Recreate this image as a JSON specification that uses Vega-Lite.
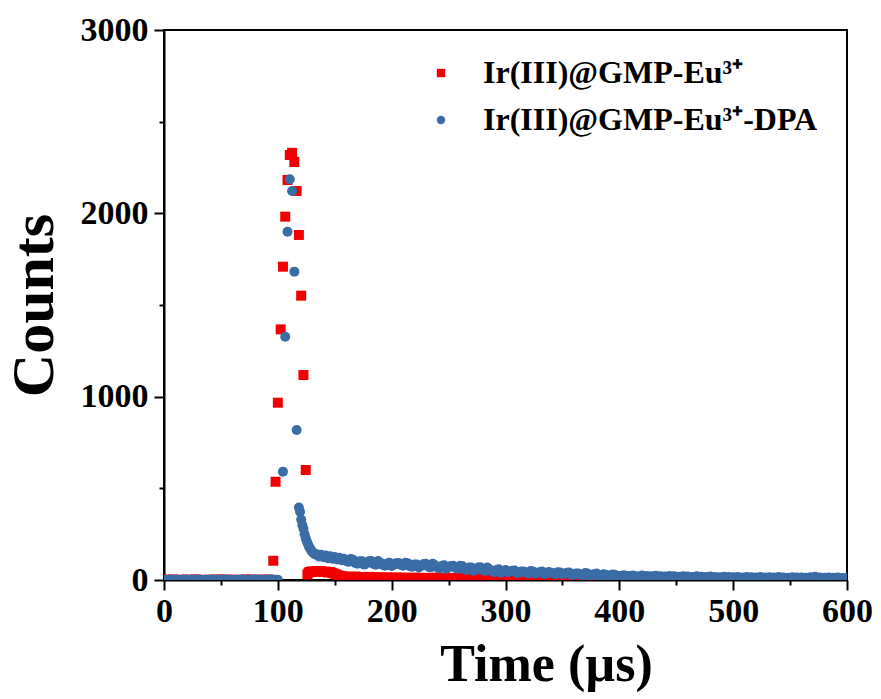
{
 "$schema": "https://vega.github.io/schema/vega-lite/v6.json",
 "width": 683, "height": 550,
 "autosize": {"type": "none"},
 "padding": {"left": 164, "top": 30, "right": 34, "bottom": 119},
 "background": "white",
 "config": {
  "view": {"stroke": "black", "strokeWidth": 2},
  "font": "Liberation Serif",
  "axis": {"grid": false, "domainColor": "black", "domainWidth": 2, "tickColor": "black", "tickWidth": 2, "labelColor": "black", "labelFont": "Liberation Serif", "labelFontWeight": "bold", "labelFontSize": 34, "titleFont": "Liberation Serif", "titleFontWeight": "bold", "titleColor": "black"}
 },
 "layer": [
  {
   "data": {"values": [
    {"t":0,"c":2,"s":"Ir(III)@GMP-Eu³⁺"},{"t":4,"c":1,"s":"Ir(III)@GMP-Eu³⁺"},{"t":8,"c":3,"s":"Ir(III)@GMP-Eu³⁺"},{"t":12,"c":0,"s":"Ir(III)@GMP-Eu³⁺"},{"t":16,"c":2,"s":"Ir(III)@GMP-Eu³⁺"},{"t":20,"c":1,"s":"Ir(III)@GMP-Eu³⁺"},{"t":24,"c":2,"s":"Ir(III)@GMP-Eu³⁺"},{"t":28,"c":3,"s":"Ir(III)@GMP-Eu³⁺"},{"t":32,"c":1,"s":"Ir(III)@GMP-Eu³⁺"},{"t":36,"c":0,"s":"Ir(III)@GMP-Eu³⁺"},{"t":40,"c":2,"s":"Ir(III)@GMP-Eu³⁺"},{"t":44,"c":1,"s":"Ir(III)@GMP-Eu³⁺"},{"t":48,"c":3,"s":"Ir(III)@GMP-Eu³⁺"},{"t":52,"c":2,"s":"Ir(III)@GMP-Eu³⁺"},{"t":56,"c":1,"s":"Ir(III)@GMP-Eu³⁺"},{"t":60,"c":2,"s":"Ir(III)@GMP-Eu³⁺"},{"t":64,"c":0,"s":"Ir(III)@GMP-Eu³⁺"},{"t":68,"c":1,"s":"Ir(III)@GMP-Eu³⁺"},{"t":72,"c":3,"s":"Ir(III)@GMP-Eu³⁺"},{"t":76,"c":2,"s":"Ir(III)@GMP-Eu³⁺"},{"t":80,"c":1,"s":"Ir(III)@GMP-Eu³⁺"},{"t":84,"c":2,"s":"Ir(III)@GMP-Eu³⁺"},{"t":88,"c":1,"s":"Ir(III)@GMP-Eu³⁺"},{"t":92,"c":3,"s":"Ir(III)@GMP-Eu³⁺"},
    {"t":96,"c":105,"s":"Ir(III)@GMP-Eu³⁺"},{"t":98,"c":536,"s":"Ir(III)@GMP-Eu³⁺"},{"t":100,"c":967,"s":"Ir(III)@GMP-Eu³⁺"},{"t":102.5,"c":1367,"s":"Ir(III)@GMP-Eu³⁺"},{"t":104.5,"c":1709,"s":"Ir(III)@GMP-Eu³⁺"},{"t":106.5,"c":1982,"s":"Ir(III)@GMP-Eu³⁺"},{"t":108.5,"c":2182,"s":"Ir(III)@GMP-Eu³⁺"},{"t":110.5,"c":2318,"s":"Ir(III)@GMP-Eu³⁺"},{"t":112.5,"c":2330,"s":"Ir(III)@GMP-Eu³⁺"},{"t":114.5,"c":2280,"s":"Ir(III)@GMP-Eu³⁺"},{"t":116.5,"c":2122,"s":"Ir(III)@GMP-Eu³⁺"},{"t":118.5,"c":1882,"s":"Ir(III)@GMP-Eu³⁺"},{"t":120.5,"c":1551,"s":"Ir(III)@GMP-Eu³⁺"},{"t":122.5,"c":1118,"s":"Ir(III)@GMP-Eu³⁺"},{"t":124.5,"c":600,"s":"Ir(III)@GMP-Eu³⁺"},
    {"t":126,"c":30,"s":"Ir(III)@GMP-Eu³⁺"},{"t":127,"c":40,"s":"Ir(III)@GMP-Eu³⁺"},{"t":128,"c":44,"s":"Ir(III)@GMP-Eu³⁺"},{"t":130,"c":47,"s":"Ir(III)@GMP-Eu³⁺"},{"t":132,"c":46,"s":"Ir(III)@GMP-Eu³⁺"},{"t":134,"c":49,"s":"Ir(III)@GMP-Eu³⁺"},{"t":136,"c":45,"s":"Ir(III)@GMP-Eu³⁺"},{"t":138,"c":48,"s":"Ir(III)@GMP-Eu³⁺"},{"t":140,"c":44,"s":"Ir(III)@GMP-Eu³⁺"},{"t":142,"c":46,"s":"Ir(III)@GMP-Eu³⁺"},{"t":144,"c":41,"s":"Ir(III)@GMP-Eu³⁺"},{"t":146,"c":43,"s":"Ir(III)@GMP-Eu³⁺"},{"t":148,"c":38,"s":"Ir(III)@GMP-Eu³⁺"},{"t":150,"c":34,"s":"Ir(III)@GMP-Eu³⁺"},{"t":152,"c":29,"s":"Ir(III)@GMP-Eu³⁺"},{"t":154,"c":24,"s":"Ir(III)@GMP-Eu³⁺"},{"t":156,"c":21,"s":"Ir(III)@GMP-Eu³⁺"},{"t":158,"c":19,"s":"Ir(III)@GMP-Eu³⁺"},{"t":160,"c":18,"s":"Ir(III)@GMP-Eu³⁺"},
    {"t":164,"c":17,"s":"Ir(III)@GMP-Eu³⁺"},{"t":168,"c":19,"s":"Ir(III)@GMP-Eu³⁺"},{"t":172,"c":16,"s":"Ir(III)@GMP-Eu³⁺"},{"t":176,"c":15,"s":"Ir(III)@GMP-Eu³⁺"},{"t":180,"c":17,"s":"Ir(III)@GMP-Eu³⁺"},{"t":184,"c":14,"s":"Ir(III)@GMP-Eu³⁺"},{"t":188,"c":15,"s":"Ir(III)@GMP-Eu³⁺"},{"t":192,"c":13,"s":"Ir(III)@GMP-Eu³⁺"},{"t":196,"c":15,"s":"Ir(III)@GMP-Eu³⁺"},{"t":200,"c":12,"s":"Ir(III)@GMP-Eu³⁺"},{"t":204,"c":14,"s":"Ir(III)@GMP-Eu³⁺"},{"t":208,"c":12,"s":"Ir(III)@GMP-Eu³⁺"},{"t":212,"c":13,"s":"Ir(III)@GMP-Eu³⁺"},{"t":216,"c":11,"s":"Ir(III)@GMP-Eu³⁺"},{"t":220,"c":13,"s":"Ir(III)@GMP-Eu³⁺"},{"t":224,"c":12,"s":"Ir(III)@GMP-Eu³⁺"},{"t":228,"c":10,"s":"Ir(III)@GMP-Eu³⁺"},{"t":232,"c":12,"s":"Ir(III)@GMP-Eu³⁺"},{"t":236,"c":11,"s":"Ir(III)@GMP-Eu³⁺"},{"t":240,"c":13,"s":"Ir(III)@GMP-Eu³⁺"},{"t":244,"c":10,"s":"Ir(III)@GMP-Eu³⁺"},{"t":248,"c":11,"s":"Ir(III)@GMP-Eu³⁺"},{"t":252,"c":12,"s":"Ir(III)@GMP-Eu³⁺"},{"t":256,"c":9,"s":"Ir(III)@GMP-Eu³⁺"},{"t":260,"c":11,"s":"Ir(III)@GMP-Eu³⁺"},{"t":264,"c":10,"s":"Ir(III)@GMP-Eu³⁺"},{"t":268,"c":12,"s":"Ir(III)@GMP-Eu³⁺"},{"t":272,"c":9,"s":"Ir(III)@GMP-Eu³⁺"},{"t":276,"c":10,"s":"Ir(III)@GMP-Eu³⁺"},{"t":280,"c":11,"s":"Ir(III)@GMP-Eu³⁺"},{"t":284,"c":8,"s":"Ir(III)@GMP-Eu³⁺"},{"t":288,"c":10,"s":"Ir(III)@GMP-Eu³⁺"},{"t":292,"c":9,"s":"Ir(III)@GMP-Eu³⁺"},{"t":296,"c":11,"s":"Ir(III)@GMP-Eu³⁺"},{"t":300,"c":8,"s":"Ir(III)@GMP-Eu³⁺"},{"t":304,"c":9,"s":"Ir(III)@GMP-Eu³⁺"},{"t":308,"c":10,"s":"Ir(III)@GMP-Eu³⁺"},{"t":312,"c":7,"s":"Ir(III)@GMP-Eu³⁺"},{"t":316,"c":9,"s":"Ir(III)@GMP-Eu³⁺"},{"t":320,"c":8,"s":"Ir(III)@GMP-Eu³⁺"},{"t":324,"c":9,"s":"Ir(III)@GMP-Eu³⁺"},{"t":328,"c":7,"s":"Ir(III)@GMP-Eu³⁺"},{"t":332,"c":8,"s":"Ir(III)@GMP-Eu³⁺"},{"t":336,"c":6,"s":"Ir(III)@GMP-Eu³⁺"},{"t":340,"c":8,"s":"Ir(III)@GMP-Eu³⁺"},{"t":344,"c":7,"s":"Ir(III)@GMP-Eu³⁺"},{"t":348,"c":6,"s":"Ir(III)@GMP-Eu³⁺"},{"t":352,"c":7,"s":"Ir(III)@GMP-Eu³⁺"},{"t":356,"c":5,"s":"Ir(III)@GMP-Eu³⁺"},{"t":360,"c":7,"s":"Ir(III)@GMP-Eu³⁺"},{"t":364,"c":6,"s":"Ir(III)@GMP-Eu³⁺"},{"t":368,"c":5,"s":"Ir(III)@GMP-Eu³⁺"},{"t":372,"c":6,"s":"Ir(III)@GMP-Eu³⁺"},{"t":376,"c":4,"s":"Ir(III)@GMP-Eu³⁺"},{"t":380,"c":5,"s":"Ir(III)@GMP-Eu³⁺"},{"t":384,"c":4,"s":"Ir(III)@GMP-Eu³⁺"},{"t":388,"c":5,"s":"Ir(III)@GMP-Eu³⁺"},{"t":392,"c":3,"s":"Ir(III)@GMP-Eu³⁺"},{"t":396,"c":4,"s":"Ir(III)@GMP-Eu³⁺"},{"t":400,"c":4,"s":"Ir(III)@GMP-Eu³⁺"},
    {"t":408,"c":3,"s":"Ir(III)@GMP-Eu³⁺"},{"t":416,"c":4,"s":"Ir(III)@GMP-Eu³⁺"},{"t":424,"c":3,"s":"Ir(III)@GMP-Eu³⁺"},{"t":432,"c":4,"s":"Ir(III)@GMP-Eu³⁺"},{"t":440,"c":3,"s":"Ir(III)@GMP-Eu³⁺"},{"t":448,"c":2,"s":"Ir(III)@GMP-Eu³⁺"},{"t":456,"c":3,"s":"Ir(III)@GMP-Eu³⁺"},{"t":464,"c":4,"s":"Ir(III)@GMP-Eu³⁺"},{"t":472,"c":2,"s":"Ir(III)@GMP-Eu³⁺"},{"t":480,"c":3,"s":"Ir(III)@GMP-Eu³⁺"},{"t":488,"c":3,"s":"Ir(III)@GMP-Eu³⁺"},{"t":496,"c":2,"s":"Ir(III)@GMP-Eu³⁺"},{"t":504,"c":3,"s":"Ir(III)@GMP-Eu³⁺"},{"t":512,"c":2,"s":"Ir(III)@GMP-Eu³⁺"},{"t":520,"c":3,"s":"Ir(III)@GMP-Eu³⁺"},{"t":528,"c":2,"s":"Ir(III)@GMP-Eu³⁺"},{"t":536,"c":3,"s":"Ir(III)@GMP-Eu³⁺"},{"t":544,"c":2,"s":"Ir(III)@GMP-Eu³⁺"},{"t":552,"c":3,"s":"Ir(III)@GMP-Eu³⁺"},{"t":560,"c":2,"s":"Ir(III)@GMP-Eu³⁺"},{"t":568,"c":3,"s":"Ir(III)@GMP-Eu³⁺"},{"t":576,"c":2,"s":"Ir(III)@GMP-Eu³⁺"},{"t":584,"c":3,"s":"Ir(III)@GMP-Eu³⁺"},{"t":592,"c":2,"s":"Ir(III)@GMP-Eu³⁺"},{"t":600,"c":2,"s":"Ir(III)@GMP-Eu³⁺"},
    {"t":0,"c":1,"s":"Ir(III)@GMP-Eu³⁺-DPA"},{"t":2,"c":2,"s":"Ir(III)@GMP-Eu³⁺-DPA"},{"t":4,"c":0,"s":"Ir(III)@GMP-Eu³⁺-DPA"},{"t":6,"c":3,"s":"Ir(III)@GMP-Eu³⁺-DPA"},{"t":8,"c":1,"s":"Ir(III)@GMP-Eu³⁺-DPA"},{"t":10,"c":2,"s":"Ir(III)@GMP-Eu³⁺-DPA"},{"t":12,"c":1,"s":"Ir(III)@GMP-Eu³⁺-DPA"},{"t":14,"c":0,"s":"Ir(III)@GMP-Eu³⁺-DPA"},{"t":16,"c":2,"s":"Ir(III)@GMP-Eu³⁺-DPA"},{"t":18,"c":3,"s":"Ir(III)@GMP-Eu³⁺-DPA"},{"t":20,"c":1,"s":"Ir(III)@GMP-Eu³⁺-DPA"},{"t":22,"c":2,"s":"Ir(III)@GMP-Eu³⁺-DPA"},{"t":24,"c":0,"s":"Ir(III)@GMP-Eu³⁺-DPA"},{"t":26,"c":1,"s":"Ir(III)@GMP-Eu³⁺-DPA"},{"t":28,"c":3,"s":"Ir(III)@GMP-Eu³⁺-DPA"},{"t":30,"c":2,"s":"Ir(III)@GMP-Eu³⁺-DPA"},{"t":32,"c":1,"s":"Ir(III)@GMP-Eu³⁺-DPA"},{"t":34,"c":2,"s":"Ir(III)@GMP-Eu³⁺-DPA"},{"t":36,"c":0,"s":"Ir(III)@GMP-Eu³⁺-DPA"},{"t":38,"c":1,"s":"Ir(III)@GMP-Eu³⁺-DPA"},{"t":40,"c":2,"s":"Ir(III)@GMP-Eu³⁺-DPA"},{"t":42,"c":3,"s":"Ir(III)@GMP-Eu³⁺-DPA"},{"t":44,"c":1,"s":"Ir(III)@GMP-Eu³⁺-DPA"},{"t":46,"c":0,"s":"Ir(III)@GMP-Eu³⁺-DPA"},{"t":48,"c":2,"s":"Ir(III)@GMP-Eu³⁺-DPA"},{"t":50,"c":1,"s":"Ir(III)@GMP-Eu³⁺-DPA"},{"t":52,"c":2,"s":"Ir(III)@GMP-Eu³⁺-DPA"},{"t":54,"c":3,"s":"Ir(III)@GMP-Eu³⁺-DPA"},{"t":56,"c":1,"s":"Ir(III)@GMP-Eu³⁺-DPA"},{"t":58,"c":2,"s":"Ir(III)@GMP-Eu³⁺-DPA"},{"t":60,"c":0,"s":"Ir(III)@GMP-Eu³⁺-DPA"},{"t":62,"c":1,"s":"Ir(III)@GMP-Eu³⁺-DPA"},{"t":64,"c":2,"s":"Ir(III)@GMP-Eu³⁺-DPA"},{"t":66,"c":1,"s":"Ir(III)@GMP-Eu³⁺-DPA"},{"t":68,"c":3,"s":"Ir(III)@GMP-Eu³⁺-DPA"},{"t":70,"c":2,"s":"Ir(III)@GMP-Eu³⁺-DPA"},{"t":72,"c":0,"s":"Ir(III)@GMP-Eu³⁺-DPA"},{"t":74,"c":1,"s":"Ir(III)@GMP-Eu³⁺-DPA"},{"t":76,"c":2,"s":"Ir(III)@GMP-Eu³⁺-DPA"},{"t":78,"c":1,"s":"Ir(III)@GMP-Eu³⁺-DPA"},{"t":80,"c":3,"s":"Ir(III)@GMP-Eu³⁺-DPA"},{"t":82,"c":2,"s":"Ir(III)@GMP-Eu³⁺-DPA"},{"t":84,"c":1,"s":"Ir(III)@GMP-Eu³⁺-DPA"},{"t":86,"c":0,"s":"Ir(III)@GMP-Eu³⁺-DPA"},{"t":88,"c":2,"s":"Ir(III)@GMP-Eu³⁺-DPA"},{"t":90,"c":1,"s":"Ir(III)@GMP-Eu³⁺-DPA"},{"t":92,"c":3,"s":"Ir(III)@GMP-Eu³⁺-DPA"},{"t":94,"c":2,"s":"Ir(III)@GMP-Eu³⁺-DPA"},{"t":96,"c":1,"s":"Ir(III)@GMP-Eu³⁺-DPA"},{"t":98,"c":2,"s":"Ir(III)@GMP-Eu³⁺-DPA"},{"t":100,"c":1,"s":"Ir(III)@GMP-Eu³⁺-DPA"},
    {"t":104.5,"c":591,"s":"Ir(III)@GMP-Eu³⁺-DPA"},{"t":106.5,"c":1327,"s":"Ir(III)@GMP-Eu³⁺-DPA"},{"t":108.5,"c":1900,"s":"Ir(III)@GMP-Eu³⁺-DPA"},{"t":110.5,"c":2186,"s":"Ir(III)@GMP-Eu³⁺-DPA"},{"t":112.5,"c":2122,"s":"Ir(III)@GMP-Eu³⁺-DPA"},{"t":114.5,"c":1682,"s":"Ir(III)@GMP-Eu³⁺-DPA"},{"t":116.5,"c":818,"s":"Ir(III)@GMP-Eu³⁺-DPA"},{"t":118.5,"c":395,"s":"Ir(III)@GMP-Eu³⁺-DPA"},{"t":119.5,"c":372,"s":"Ir(III)@GMP-Eu³⁺-DPA"},{"t":120.5,"c":330,"s":"Ir(III)@GMP-Eu³⁺-DPA"},{"t":121.5,"c":300,"s":"Ir(III)@GMP-Eu³⁺-DPA"},{"t":122.5,"c":280,"s":"Ir(III)@GMP-Eu³⁺-DPA"},{"t":123.5,"c":250,"s":"Ir(III)@GMP-Eu³⁺-DPA"},{"t":124.5,"c":228,"s":"Ir(III)@GMP-Eu³⁺-DPA"},{"t":125.5,"c":210,"s":"Ir(III)@GMP-Eu³⁺-DPA"},{"t":126.5,"c":195,"s":"Ir(III)@GMP-Eu³⁺-DPA"},{"t":127.5,"c":180,"s":"Ir(III)@GMP-Eu³⁺-DPA"},{"t":128.5,"c":170,"s":"Ir(III)@GMP-Eu³⁺-DPA"},{"t":129.5,"c":160,"s":"Ir(III)@GMP-Eu³⁺-DPA"},{"t":130.5,"c":152,"s":"Ir(III)@GMP-Eu³⁺-DPA"},{"t":131.5,"c":146,"s":"Ir(III)@GMP-Eu³⁺-DPA"},{"t":132.5,"c":140,"s":"Ir(III)@GMP-Eu³⁺-DPA"},{"t":134,"c":140,"s":"Ir(III)@GMP-Eu³⁺-DPA"},{"t":136,"c":128,"s":"Ir(III)@GMP-Eu³⁺-DPA"},{"t":138,"c":138,"s":"Ir(III)@GMP-Eu³⁺-DPA"},{"t":140,"c":124,"s":"Ir(III)@GMP-Eu³⁺-DPA"},{"t":142,"c":133,"s":"Ir(III)@GMP-Eu³⁺-DPA"},{"t":144,"c":119,"s":"Ir(III)@GMP-Eu³⁺-DPA"},{"t":146,"c":130,"s":"Ir(III)@GMP-Eu³⁺-DPA"},{"t":148,"c":116,"s":"Ir(III)@GMP-Eu³⁺-DPA"},{"t":150,"c":125,"s":"Ir(III)@GMP-Eu³⁺-DPA"},{"t":152,"c":112,"s":"Ir(III)@GMP-Eu³⁺-DPA"},{"t":154,"c":121,"s":"Ir(III)@GMP-Eu³⁺-DPA"},{"t":156,"c":108,"s":"Ir(III)@GMP-Eu³⁺-DPA"},{"t":158,"c":116,"s":"Ir(III)@GMP-Eu³⁺-DPA"},{"t":160,"c":104,"s":"Ir(III)@GMP-Eu³⁺-DPA"},
    {"t":162,"c":99,"s":"Ir(III)@GMP-Eu³⁺-DPA"},{"t":166,"c":111,"s":"Ir(III)@GMP-Eu³⁺-DPA"},{"t":170,"c":89,"s":"Ir(III)@GMP-Eu³⁺-DPA"},{"t":174,"c":102,"s":"Ir(III)@GMP-Eu³⁺-DPA"},{"t":178,"c":92,"s":"Ir(III)@GMP-Eu³⁺-DPA"},{"t":182,"c":104,"s":"Ir(III)@GMP-Eu³⁺-DPA"},{"t":186,"c":83,"s":"Ir(III)@GMP-Eu³⁺-DPA"},{"t":190,"c":94,"s":"Ir(III)@GMP-Eu³⁺-DPA"},{"t":194,"c":78,"s":"Ir(III)@GMP-Eu³⁺-DPA"},{"t":198,"c":94,"s":"Ir(III)@GMP-Eu³⁺-DPA"},{"t":202,"c":84,"s":"Ir(III)@GMP-Eu³⁺-DPA"},{"t":206,"c":93,"s":"Ir(III)@GMP-Eu³⁺-DPA"},{"t":210,"c":78,"s":"Ir(III)@GMP-Eu³⁺-DPA"},{"t":214,"c":92,"s":"Ir(III)@GMP-Eu³⁺-DPA"},{"t":218,"c":72,"s":"Ir(III)@GMP-Eu³⁺-DPA"},{"t":222,"c":85,"s":"Ir(III)@GMP-Eu³⁺-DPA"},{"t":226,"c":76,"s":"Ir(III)@GMP-Eu³⁺-DPA"},{"t":230,"c":89,"s":"Ir(III)@GMP-Eu³⁺-DPA"},{"t":234,"c":69,"s":"Ir(III)@GMP-Eu³⁺-DPA"},{"t":238,"c":80,"s":"Ir(III)@GMP-Eu³⁺-DPA"},{"t":242,"c":63,"s":"Ir(III)@GMP-Eu³⁺-DPA"},{"t":246,"c":80,"s":"Ir(III)@GMP-Eu³⁺-DPA"},{"t":250,"c":69,"s":"Ir(III)@GMP-Eu³⁺-DPA"},{"t":254,"c":78,"s":"Ir(III)@GMP-Eu³⁺-DPA"},{"t":258,"c":62,"s":"Ir(III)@GMP-Eu³⁺-DPA"},{"t":262,"c":76,"s":"Ir(III)@GMP-Eu³⁺-DPA"},{"t":266,"c":55,"s":"Ir(III)@GMP-Eu³⁺-DPA"},{"t":270,"c":68,"s":"Ir(III)@GMP-Eu³⁺-DPA"},{"t":274,"c":58,"s":"Ir(III)@GMP-Eu³⁺-DPA"},{"t":278,"c":70,"s":"Ir(III)@GMP-Eu³⁺-DPA"},{"t":282,"c":49,"s":"Ir(III)@GMP-Eu³⁺-DPA"},{"t":286,"c":59,"s":"Ir(III)@GMP-Eu³⁺-DPA"},{"t":290,"c":42,"s":"Ir(III)@GMP-Eu³⁺-DPA"},{"t":294,"c":58,"s":"Ir(III)@GMP-Eu³⁺-DPA"},{"t":298,"c":47,"s":"Ir(III)@GMP-Eu³⁺-DPA"},{"t":302,"c":43,"s":"Ir(III)@GMP-Eu³⁺-DPA"},{"t":306,"c":51,"s":"Ir(III)@GMP-Eu³⁺-DPA"},{"t":310,"c":39,"s":"Ir(III)@GMP-Eu³⁺-DPA"},{"t":314,"c":47,"s":"Ir(III)@GMP-Eu³⁺-DPA"},{"t":318,"c":41,"s":"Ir(III)@GMP-Eu³⁺-DPA"},{"t":322,"c":49,"s":"Ir(III)@GMP-Eu³⁺-DPA"},{"t":326,"c":36,"s":"Ir(III)@GMP-Eu³⁺-DPA"},{"t":330,"c":42,"s":"Ir(III)@GMP-Eu³⁺-DPA"},{"t":334,"c":33,"s":"Ir(III)@GMP-Eu³⁺-DPA"},{"t":338,"c":43,"s":"Ir(III)@GMP-Eu³⁺-DPA"},{"t":342,"c":37,"s":"Ir(III)@GMP-Eu³⁺-DPA"},{"t":346,"c":42,"s":"Ir(III)@GMP-Eu³⁺-DPA"},{"t":350,"c":32,"s":"Ir(III)@GMP-Eu³⁺-DPA"},{"t":354,"c":40,"s":"Ir(III)@GMP-Eu³⁺-DPA"},{"t":358,"c":28,"s":"Ir(III)@GMP-Eu³⁺-DPA"},{"t":362,"c":36,"s":"Ir(III)@GMP-Eu³⁺-DPA"},{"t":366,"c":30,"s":"Ir(III)@GMP-Eu³⁺-DPA"},{"t":370,"c":38,"s":"Ir(III)@GMP-Eu³⁺-DPA"},{"t":374,"c":25,"s":"Ir(III)@GMP-Eu³⁺-DPA"},{"t":378,"c":31,"s":"Ir(III)@GMP-Eu³⁺-DPA"},{"t":382,"c":21,"s":"Ir(III)@GMP-Eu³⁺-DPA"},{"t":386,"c":31,"s":"Ir(III)@GMP-Eu³⁺-DPA"},{"t":390,"c":25,"s":"Ir(III)@GMP-Eu³⁺-DPA"},{"t":394,"c":30,"s":"Ir(III)@GMP-Eu³⁺-DPA"},{"t":398,"c":21,"s":"Ir(III)@GMP-Eu³⁺-DPA"},
    {"t":164,"c":114,"s":"Ir(III)@GMP-Eu³⁺-DPA"},{"t":168,"c":93,"s":"Ir(III)@GMP-Eu³⁺-DPA"},{"t":172,"c":102,"s":"Ir(III)@GMP-Eu³⁺-DPA"},{"t":176,"c":84,"s":"Ir(III)@GMP-Eu³⁺-DPA"},{"t":180,"c":102,"s":"Ir(III)@GMP-Eu³⁺-DPA"},{"t":184,"c":88,"s":"Ir(III)@GMP-Eu³⁺-DPA"},{"t":188,"c":103,"s":"Ir(III)@GMP-Eu³⁺-DPA"},{"t":192,"c":84,"s":"Ir(III)@GMP-Eu³⁺-DPA"},{"t":196,"c":90,"s":"Ir(III)@GMP-Eu³⁺-DPA"},{"t":200,"c":77,"s":"Ir(III)@GMP-Eu³⁺-DPA"},{"t":204,"c":92,"s":"Ir(III)@GMP-Eu³⁺-DPA"},{"t":208,"c":83,"s":"Ir(III)@GMP-Eu³⁺-DPA"},{"t":212,"c":94,"s":"Ir(III)@GMP-Eu³⁺-DPA"},{"t":216,"c":75,"s":"Ir(III)@GMP-Eu³⁺-DPA"},{"t":220,"c":85,"s":"Ir(III)@GMP-Eu³⁺-DPA"},{"t":224,"c":68,"s":"Ir(III)@GMP-Eu³⁺-DPA"},{"t":228,"c":87,"s":"Ir(III)@GMP-Eu³⁺-DPA"},{"t":232,"c":74,"s":"Ir(III)@GMP-Eu³⁺-DPA"},{"t":236,"c":89,"s":"Ir(III)@GMP-Eu³⁺-DPA"},{"t":240,"c":69,"s":"Ir(III)@GMP-Eu³⁺-DPA"},{"t":244,"c":76,"s":"Ir(III)@GMP-Eu³⁺-DPA"},{"t":248,"c":62,"s":"Ir(III)@GMP-Eu³⁺-DPA"},{"t":252,"c":77,"s":"Ir(III)@GMP-Eu³⁺-DPA"},{"t":256,"c":67,"s":"Ir(III)@GMP-Eu³⁺-DPA"},{"t":260,"c":78,"s":"Ir(III)@GMP-Eu³⁺-DPA"},{"t":264,"c":58,"s":"Ir(III)@GMP-Eu³⁺-DPA"},{"t":268,"c":68,"s":"Ir(III)@GMP-Eu³⁺-DPA"},{"t":272,"c":50,"s":"Ir(III)@GMP-Eu³⁺-DPA"},{"t":276,"c":68,"s":"Ir(III)@GMP-Eu³⁺-DPA"},{"t":280,"c":54,"s":"Ir(III)@GMP-Eu³⁺-DPA"},{"t":284,"c":68,"s":"Ir(III)@GMP-Eu³⁺-DPA"},{"t":288,"c":48,"s":"Ir(III)@GMP-Eu³⁺-DPA"},{"t":292,"c":54,"s":"Ir(III)@GMP-Eu³⁺-DPA"},{"t":296,"c":40,"s":"Ir(III)@GMP-Eu³⁺-DPA"},{"t":300,"c":54,"s":"Ir(III)@GMP-Eu³⁺-DPA"},{"t":304,"c":46,"s":"Ir(III)@GMP-Eu³⁺-DPA"},{"t":308,"c":52,"s":"Ir(III)@GMP-Eu³⁺-DPA"},{"t":312,"c":40,"s":"Ir(III)@GMP-Eu³⁺-DPA"},{"t":316,"c":46,"s":"Ir(III)@GMP-Eu³⁺-DPA"},{"t":320,"c":36,"s":"Ir(III)@GMP-Eu³⁺-DPA"},{"t":324,"c":47,"s":"Ir(III)@GMP-Eu³⁺-DPA"},{"t":328,"c":39,"s":"Ir(III)@GMP-Eu³⁺-DPA"},{"t":332,"c":47,"s":"Ir(III)@GMP-Eu³⁺-DPA"},{"t":336,"c":36,"s":"Ir(III)@GMP-Eu³⁺-DPA"},{"t":340,"c":40,"s":"Ir(III)@GMP-Eu³⁺-DPA"},{"t":344,"c":32,"s":"Ir(III)@GMP-Eu³⁺-DPA"},{"t":348,"c":41,"s":"Ir(III)@GMP-Eu³⁺-DPA"},{"t":352,"c":35,"s":"Ir(III)@GMP-Eu³⁺-DPA"},{"t":356,"c":41,"s":"Ir(III)@GMP-Eu³⁺-DPA"},{"t":360,"c":29,"s":"Ir(III)@GMP-Eu³⁺-DPA"},{"t":364,"c":35,"s":"Ir(III)@GMP-Eu³⁺-DPA"},{"t":368,"c":25,"s":"Ir(III)@GMP-Eu³⁺-DPA"},{"t":372,"c":36,"s":"Ir(III)@GMP-Eu³⁺-DPA"},{"t":376,"c":28,"s":"Ir(III)@GMP-Eu³⁺-DPA"},{"t":380,"c":35,"s":"Ir(III)@GMP-Eu³⁺-DPA"},{"t":384,"c":24,"s":"Ir(III)@GMP-Eu³⁺-DPA"},{"t":388,"c":28,"s":"Ir(III)@GMP-Eu³⁺-DPA"},{"t":392,"c":21,"s":"Ir(III)@GMP-Eu³⁺-DPA"},{"t":396,"c":28,"s":"Ir(III)@GMP-Eu³⁺-DPA"},{"t":400,"c":22,"s":"Ir(III)@GMP-Eu³⁺-DPA"},{"t":404,"c":26,"s":"Ir(III)@GMP-Eu³⁺-DPA"},{"t":408,"c":22,"s":"Ir(III)@GMP-Eu³⁺-DPA"},{"t":412,"c":25,"s":"Ir(III)@GMP-Eu³⁺-DPA"},{"t":416,"c":21,"s":"Ir(III)@GMP-Eu³⁺-DPA"},{"t":420,"c":24,"s":"Ir(III)@GMP-Eu³⁺-DPA"},{"t":424,"c":22,"s":"Ir(III)@GMP-Eu³⁺-DPA"},{"t":428,"c":20,"s":"Ir(III)@GMP-Eu³⁺-DPA"},{"t":432,"c":23,"s":"Ir(III)@GMP-Eu³⁺-DPA"},{"t":436,"c":21,"s":"Ir(III)@GMP-Eu³⁺-DPA"},{"t":440,"c":19,"s":"Ir(III)@GMP-Eu³⁺-DPA"},{"t":444,"c":22,"s":"Ir(III)@GMP-Eu³⁺-DPA"},{"t":448,"c":20,"s":"Ir(III)@GMP-Eu³⁺-DPA"},{"t":452,"c":18,"s":"Ir(III)@GMP-Eu³⁺-DPA"},{"t":456,"c":21,"s":"Ir(III)@GMP-Eu³⁺-DPA"},{"t":460,"c":19,"s":"Ir(III)@GMP-Eu³⁺-DPA"},{"t":464,"c":17,"s":"Ir(III)@GMP-Eu³⁺-DPA"},{"t":468,"c":20,"s":"Ir(III)@GMP-Eu³⁺-DPA"},{"t":472,"c":18,"s":"Ir(III)@GMP-Eu³⁺-DPA"},{"t":476,"c":16,"s":"Ir(III)@GMP-Eu³⁺-DPA"},{"t":480,"c":19,"s":"Ir(III)@GMP-Eu³⁺-DPA"},{"t":484,"c":17,"s":"Ir(III)@GMP-Eu³⁺-DPA"},{"t":488,"c":15,"s":"Ir(III)@GMP-Eu³⁺-DPA"},{"t":492,"c":18,"s":"Ir(III)@GMP-Eu³⁺-DPA"},{"t":496,"c":16,"s":"Ir(III)@GMP-Eu³⁺-DPA"},{"t":500,"c":15,"s":"Ir(III)@GMP-Eu³⁺-DPA"},{"t":504,"c":17,"s":"Ir(III)@GMP-Eu³⁺-DPA"},{"t":508,"c":14,"s":"Ir(III)@GMP-Eu³⁺-DPA"},{"t":512,"c":16,"s":"Ir(III)@GMP-Eu³⁺-DPA"},{"t":516,"c":15,"s":"Ir(III)@GMP-Eu³⁺-DPA"},{"t":520,"c":13,"s":"Ir(III)@GMP-Eu³⁺-DPA"},{"t":524,"c":16,"s":"Ir(III)@GMP-Eu³⁺-DPA"},{"t":528,"c":14,"s":"Ir(III)@GMP-Eu³⁺-DPA"},{"t":532,"c":15,"s":"Ir(III)@GMP-Eu³⁺-DPA"},{"t":536,"c":13,"s":"Ir(III)@GMP-Eu³⁺-DPA"},{"t":540,"c":16,"s":"Ir(III)@GMP-Eu³⁺-DPA"},{"t":544,"c":14,"s":"Ir(III)@GMP-Eu³⁺-DPA"},{"t":548,"c":12,"s":"Ir(III)@GMP-Eu³⁺-DPA"},{"t":552,"c":15,"s":"Ir(III)@GMP-Eu³⁺-DPA"},{"t":556,"c":13,"s":"Ir(III)@GMP-Eu³⁺-DPA"},{"t":560,"c":14,"s":"Ir(III)@GMP-Eu³⁺-DPA"},{"t":564,"c":12,"s":"Ir(III)@GMP-Eu³⁺-DPA"},{"t":568,"c":15,"s":"Ir(III)@GMP-Eu³⁺-DPA"},{"t":572,"c":18,"s":"Ir(III)@GMP-Eu³⁺-DPA"},{"t":576,"c":14,"s":"Ir(III)@GMP-Eu³⁺-DPA"},{"t":580,"c":12,"s":"Ir(III)@GMP-Eu³⁺-DPA"},{"t":584,"c":14,"s":"Ir(III)@GMP-Eu³⁺-DPA"},{"t":588,"c":12,"s":"Ir(III)@GMP-Eu³⁺-DPA"},{"t":592,"c":13,"s":"Ir(III)@GMP-Eu³⁺-DPA"},{"t":596,"c":11,"s":"Ir(III)@GMP-Eu³⁺-DPA"},{"t":600,"c":12,"s":"Ir(III)@GMP-Eu³⁺-DPA"}
   ]},
   "mark": {"type": "point", "filled": true, "size": 100, "opacity": 1, "clip": true},
   "encoding": {
    "x": {"field": "t", "type": "quantitative", "scale": {"domain": [0, 600], "nice": false, "zero": false},
          "axis": {"orient": "bottom", "values": [0, 100, 200, 300, 400, 500, 600], "tickSize": 10, "labelPadding": 4, "labelFlush": false, "labelOverlap": false, "title": "Time (µs)", "titleFontSize": 52, "titleX": 382, "titleY": 100, "titleBaseline": "alphabetic", "titleAlign": "center"}},
    "y": {"field": "c", "type": "quantitative", "scale": {"domain": [0, 3000], "nice": false},
          "axis": {"orient": "left", "values": [0, 1000, 2000, 3000], "format": "d", "tickSize": 10, "labelPadding": 6, "labelFlush": false, "labelOverlap": false, "title": "Counts", "titleFontSize": 60, "titleX": -112, "titleY": 275, "titleAngle": 270, "titleBaseline": "alphabetic", "titleAlign": "center"}},
    "color": {"field": "s", "type": "nominal", "scale": {"domain": ["Ir(III)@GMP-Eu³⁺", "Ir(III)@GMP-Eu³⁺-DPA"], "range": ["#f00000", "#3a6ca6"]},
              "legend": {"title": null, "orient": "none", "legendX": 261, "legendY": 27, "padding": 0, "labelFont": "Liberation Serif", "labelFontSize": 32, "labelFontWeight": "bold", "labelColor": "black", "labelLimit": 600, "symbolSize": 70, "symbolStrokeWidth": 0, "rowPadding": 15, "labelOffset": 26}},
    "shape": {"field": "s", "type": "nominal", "scale": {"domain": ["Ir(III)@GMP-Eu³⁺", "Ir(III)@GMP-Eu³⁺-DPA"], "range": ["square", "circle"]}}
   }
  },
  {
   "data": {"values": [{"t": 0, "c": 0}, {"t": 600, "c": 3000}]},
   "mark": {"type": "point", "opacity": 0},
   "encoding": {
    "x": {"field": "t", "type": "quantitative", "axis": {"orient": "bottom", "values": [50, 150, 250, 350, 450, 550], "tickSize": 5, "labels": false, "domain": false, "title": null}},
    "y": {"field": "c", "type": "quantitative", "axis": {"orient": "left", "values": [500, 1500, 2500], "tickSize": 5, "labels": false, "domain": false, "title": null}}
   }
  }
 ],
 "resolve": {"axis": {"x": "independent", "y": "independent"}}
}
